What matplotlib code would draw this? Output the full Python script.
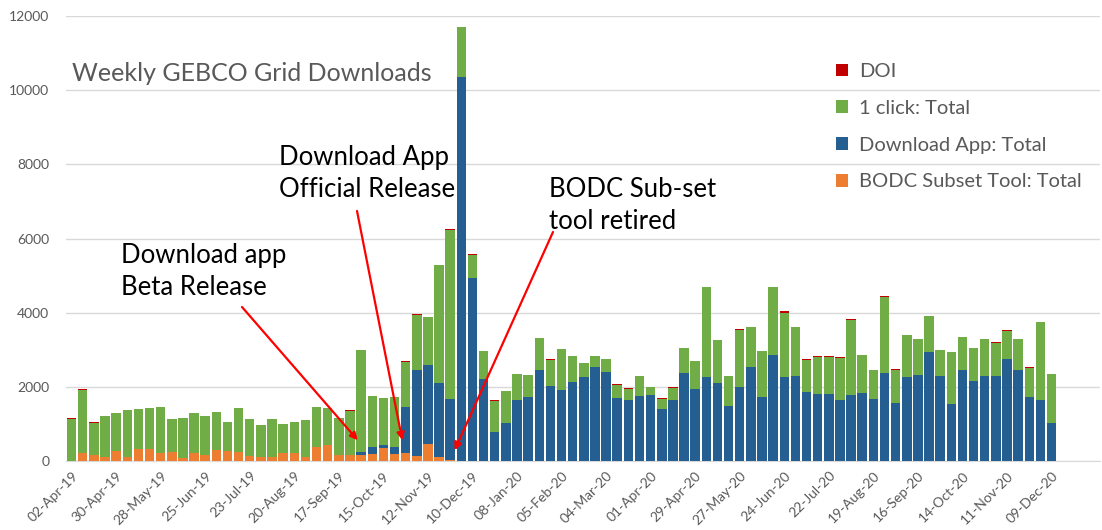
import matplotlib
matplotlib.use("Agg")
import matplotlib.pyplot as plt
from matplotlib.patches import Patch
import numpy as np

plt.rcParams['font.family'] = ['Lato', 'DejaVu Sans']

# ---- data (weekly downloads) ----
tick_labels = ["02-Apr-19", "30-Apr-19", "28-May-19", "25-Jun-19", "23-Jul-19", "20-Aug-19",
               "17-Sep-19", "15-Oct-19", "12-Nov-19", "10-Dec-19", "08-Jan-20", "05-Feb-20",
               "04-Mar-20", "01-Apr-20", "29-Apr-20", "27-May-20", "24-Jun-20", "22-Jul-20",
               "19-Aug-20", "16-Sep-20", "14-Oct-20", "11-Nov-20", "09-Dec-20"]

bodc = [10, 207, 160, 100, 270, 100, 323, 323, 215, 243, 90, 215, 153, 288, 279, 234,
        130, 108, 108, 215, 225, 100, 368, 418, 158, 158, 162, 189, 359, 197, 207, 125,
        450, 116, 20, 0, 0, 0, 0] + [0] * 50

app = [0] * 26 + [89, 188, 72, 180, 1243, 2327, 2150, 1978, 1643, 10357, 4924, 2210, 790,
                  1015, 1644, 1734, 2452, 2021, 1913, 2120, 2255, 2533, 2407, 1689, 1635,
                  1752, 1779, 1393, 1644, 2380, 1940, 2255, 2094, 1482, 1985, 2525, 1716,
                  2857, 2255, 2290, 1851, 1797, 1797, 1644, 1779, 1824, 1671, 2380, 1570,
                  2260, 2310, 2940, 2300, 1530, 2460, 2160, 2300, 2300, 2750, 2450, 1730,
                  1650, 1030]

oneclick = [1130, 1715, 873, 1121, 1015, 1283, 1070, 1105, 1230, 889, 1069, 1079, 1060,
            1024, 781, 1186, 990, 867, 1012, 790, 820, 995, 1079, 1019, 1014, 1199, 2731,
            1383, 1258, 1339, 1227, 1493, 1281, 3178, 4571, 1348, 636, 747, 838, 867, 701,
            593, 862, 711, 1106, 711, 387, 288, 334, 369, 315, 531, 224, 288, 333, 664,
            756, 2433, 1159, 810, 1556, 1078, 1249, 1831, 1748, 1320, 881, 1016, 1016,
            1142, 2032, 1025, 773, 2052, 892, 1132, 982, 972, 692, 1412, 882, 882, 992,
            892, 762, 842, 780, 2092, 1312]

doi = [8, 10, 8, 0, 0, 0, 0, 0, 8, 0, 0, 0, 0, 0, 0, 0, 0, 0, 0, 0, 0, 0, 8, 0, 0,
       8, 8, 0, 0, 0, 8, 8, 8, 10, 10, 0, 10, 8, 8, 8, 0, 0, 10, 8, 8, 8, 8,
       0, 8, 8, 8, 8, 0, 8, 8, 10, 8, 10, 8, 8, 8, 8, 8, 10, 40, 10, 8, 8,
       8, 8, 8, 8, 8, 8, 8, 8, 8, 8, 8, 8, 8, 8, 8, 8, 8, 8, 20, 8, 8]

series_names = ["BODC Subset Tool: Total", "Download App: Total", "1 click: Total", "DOI"]
colors = ["#ED7D31", "#255E91", "#70AD47", "#C00000"]

# ---- figure ----
W, H = 1102, 530
fig = plt.figure(figsize=(W / 100, H / 100), dpi=100)
ax = fig.add_axes([66 / W, 1 - 461 / H, (1100 - 66) / W, (461 - 16) / H])

def px(x, y):
    return (x / W, 1 - y / H)

x = np.arange(len(bodc))
bottom = np.zeros(len(x))
for vals, c in zip([bodc, app, oneclick, doi], colors):
    v = np.array(vals, dtype=float)
    ax.bar(x, v, bottom=bottom, width=0.85, color=c, edgecolor='none', zorder=3)
    bottom += v

ax.set_xlim(-0.5, -0.5 + (1100 - 66) / 11.136)
ax.set_ylim(0, 12000)
ax.set_yticks(np.arange(0, 12001, 2000))
ax.set_yticklabels([str(v) for v in range(0, 12001, 2000)])
ax.grid(axis='y', color='#D9D9D9', lw=1, zorder=0)
ax.set_axisbelow(True)
for s in ['top', 'right', 'left']:
    ax.spines[s].set_visible(False)
ax.spines['bottom'].set_color('#D9D9D9')
ax.tick_params(axis='y', length=0, pad=12, labelsize=10, labelcolor='#595959')

tick_pos = x[::4]
ax.set_xticks(tick_pos)
ax.set_xticklabels(tick_labels, rotation=45, ha='right', rotation_mode='anchor',
                   fontsize=10, color='#595959')
ax.tick_params(axis='x', length=0, pad=6)

# title
fig.text(*px(72, 62), "Weekly GEBCO Grid Downloads", fontsize=18, color='#595959',
         va='top', ha='left')

# annotations
ann_kw = dict(fontsize=18.5, color='black', va='top', ha='left', linespacing=1.33)
fig.text(*px(121, 243), "Download app\nBeta Release", **ann_kw)
fig.text(*px(279, 145), "Download App\nOfficial Release", **ann_kw)
fig.text(*px(549, 177), "BODC Sub-set\ntool retired", **ann_kw)

arrow = dict(arrowstyle='-|>', color='#FF0000', lw=1.6, mutation_scale=11,
             shrinkA=0, shrinkB=0)
ax.annotate('', xy=(25.7, 560), xytext=px(242, 307), textcoords='figure fraction',
            arrowprops=arrow, zorder=5)
ax.annotate('', xy=(29.7, 560), xytext=px(357, 211), textcoords='figure fraction',
            arrowprops=arrow, zorder=5)
ax.annotate('', xy=(34.4, 290), xytext=px(553, 232), textcoords='figure fraction',
            arrowprops=arrow, zorder=5)

# legend
handles = [Patch(facecolor=c, edgecolor='none') for c in colors][::-1]
labels = series_names[::-1]
leg = fig.legend(handles, labels, loc='upper left', bbox_to_anchor=px(818, 45),
                 frameon=False, fontsize=14.5, handlelength=0.6, handleheight=0.6,
                 handletextpad=0.55, labelspacing=0.98)
for t in leg.get_texts():
    t.set_color('#595959')

fig.savefig("out.png", dpi=100, facecolor='white')
